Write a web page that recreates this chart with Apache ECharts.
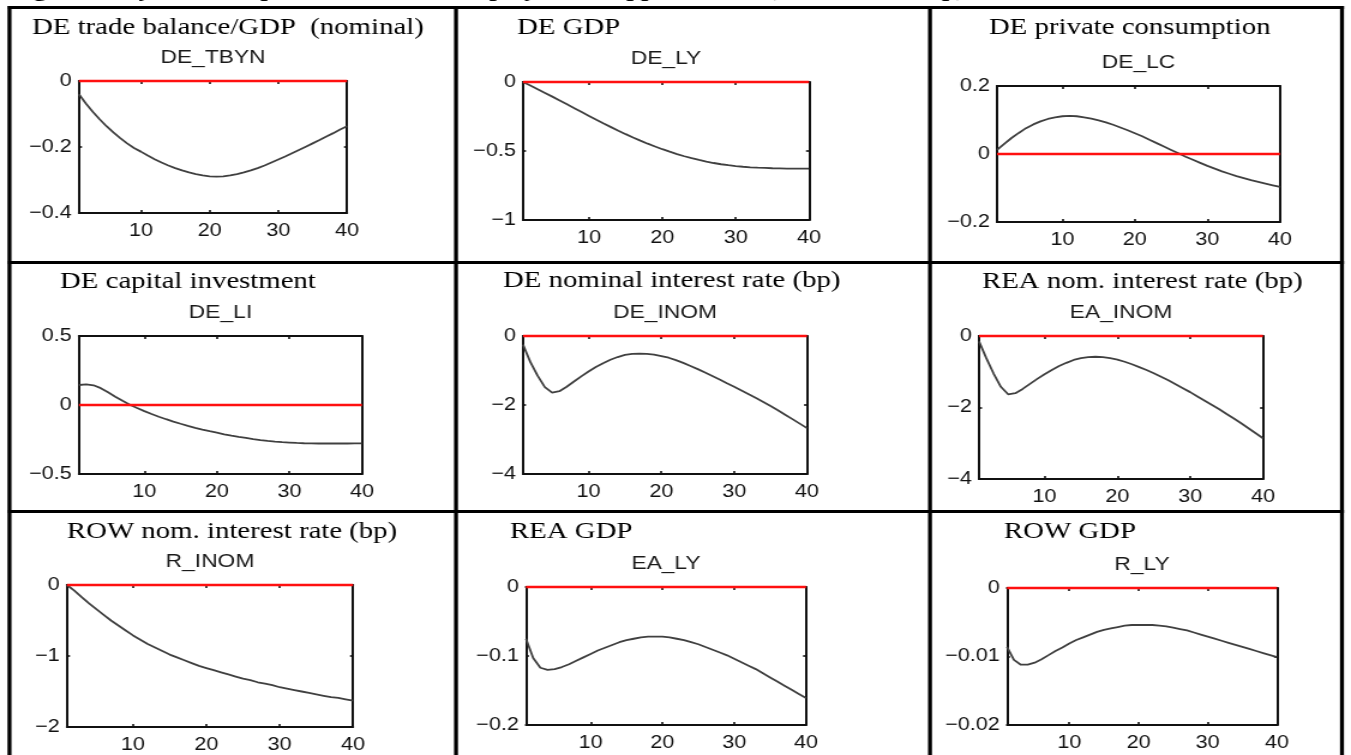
<!DOCTYPE html>
<html>
<head>
<meta charset="utf-8">
<script src="https://cdn.jsdelivr.net/npm/echarts@6/dist/echarts.min.js"></script>
<style>
  html, body { margin: 0; padding: 0; background: #fff; overflow: hidden; }
  #stage { width: 1351px; height: 755px; overflow: hidden; }
  /* the figure is laid out on a narrower canvas and widened, like the stretched page it comes from */
  #chart { width: 1126px; height: 755px; transform: scaleX(1.19982); transform-origin: 0 0; }
</style>
</head>
<body>
<div id="stage"><div id="chart"></div></div>
<script>
// ---- data: quarters after the shock and impulse responses ----
const periods = [1,2,3,4,5,6,7,8,9,10,11,12,13,14,15,16,17,18,19,20,
                 21,22,23,24,25,26,27,28,29,30,31,32,33,34,35,36,37,38,39,40];

const deTbyn = [-0.040,-0.068,-0.093,-0.116,-0.137,-0.156,-0.173,-0.189,-0.203,-0.214,
                -0.226,-0.237,-0.247,-0.256,-0.264,-0.271,-0.277,-0.282,-0.286,-0.289,
                -0.290,-0.289,-0.286,-0.282,-0.277,-0.271,-0.264,-0.256,-0.247,-0.238,
                -0.229,-0.219,-0.209,-0.199,-0.189,-0.179,-0.168,-0.158,-0.147,-0.137];

const deLy = [0.000,-0.025,-0.052,-0.079,-0.106,-0.134,-0.162,-0.190,-0.218,-0.246,
              -0.274,-0.301,-0.327,-0.353,-0.378,-0.402,-0.425,-0.447,-0.467,-0.487,
              -0.505,-0.522,-0.538,-0.552,-0.565,-0.577,-0.587,-0.596,-0.603,-0.609,
              -0.614,-0.618,-0.621,-0.623,-0.625,-0.626,-0.627,-0.627,-0.627,-0.627];

const deLc = [0.012,0.030,0.047,0.062,0.076,0.087,0.096,0.103,0.108,0.111,
              0.112,0.111,0.108,0.104,0.099,0.093,0.086,0.078,0.070,0.061,
              0.052,0.042,0.032,0.022,0.012,0.002,-0.008,-0.017,-0.026,-0.035,
              -0.043,-0.051,-0.058,-0.065,-0.071,-0.077,-0.082,-0.087,-0.092,-0.097];

const deLi = [0.145,0.150,0.143,0.122,0.092,0.060,0.030,0.002,-0.022,-0.044,
              -0.065,-0.085,-0.103,-0.120,-0.136,-0.151,-0.165,-0.178,-0.190,-0.201,
              -0.212,-0.222,-0.231,-0.239,-0.247,-0.254,-0.260,-0.265,-0.269,-0.272,
              -0.275,-0.277,-0.278,-0.279,-0.279,-0.279,-0.279,-0.279,-0.278,-0.278];

const deInom = [-0.25,-0.75,-1.15,-1.48,-1.64,-1.60,-1.47,-1.32,-1.17,-1.03,
                -0.90,-0.79,-0.69,-0.61,-0.55,-0.52,-0.51,-0.52,-0.54,-0.58,
                -0.63,-0.70,-0.78,-0.87,-0.96,-1.06,-1.16,-1.26,-1.37,-1.47,
                -1.58,-1.69,-1.80,-1.91,-2.03,-2.15,-2.28,-2.41,-2.54,-2.67];

const eaInom = [-0.15,-0.62,-1.05,-1.42,-1.63,-1.60,-1.48,-1.34,-1.20,-1.07,
                -0.95,-0.84,-0.75,-0.67,-0.62,-0.59,-0.58,-0.59,-0.62,-0.66,
                -0.72,-0.79,-0.87,-0.95,-1.04,-1.14,-1.24,-1.35,-1.46,-1.57,
                -1.69,-1.81,-1.93,-2.05,-2.18,-2.31,-2.44,-2.58,-2.72,-2.86];

const rInom = [0.00,-0.08,-0.17,-0.26,-0.34,-0.42,-0.50,-0.57,-0.64,-0.71,
               -0.77,-0.83,-0.88,-0.93,-0.98,-1.02,-1.06,-1.10,-1.14,-1.17,
               -1.20,-1.23,-1.26,-1.29,-1.32,-1.34,-1.37,-1.39,-1.41,-1.44,
               -1.46,-1.48,-1.50,-1.52,-1.54,-1.56,-1.58,-1.59,-1.61,-1.63];

const eaLy = [-0.075,-0.103,-0.117,-0.120,-0.119,-0.116,-0.112,-0.107,-0.102,-0.097,
              -0.092,-0.088,-0.084,-0.080,-0.077,-0.075,-0.073,-0.072,-0.072,-0.072,
              -0.073,-0.075,-0.077,-0.080,-0.083,-0.087,-0.091,-0.095,-0.099,-0.104,
              -0.109,-0.114,-0.119,-0.125,-0.131,-0.137,-0.143,-0.149,-0.155,-0.161];

const rLy = [-0.0086,-0.0105,-0.0112,-0.0112,-0.0109,-0.0104,-0.0098,-0.0092,-0.0087,-0.0081,
             -0.0076,-0.0072,-0.0068,-0.0064,-0.0061,-0.0059,-0.0057,-0.0055,-0.0054,-0.0054,
             -0.0054,-0.0054,-0.0055,-0.0056,-0.0058,-0.0060,-0.0062,-0.0065,-0.0068,-0.0071,
             -0.0074,-0.0077,-0.0080,-0.0083,-0.0086,-0.0089,-0.0092,-0.0095,-0.0098,-0.0101];

// ---- labels and tick settings ----
const figureTitle = 'Figure 4: Dynamic responses to the DE employment support shock (deviation, %/bp)';
const panelTitles = ['DE trade balance/GDP  (nominal)', 'DE GDP', 'DE private consumption',
                     'DE capital investment', 'DE nominal interest rate (bp)', 'REA nom. interest rate (bp)',
                     'ROW nom. interest rate (bp)', 'REA GDP', 'ROW GDP'];
const varCodes = ['DE_TBYN', 'DE_LY', 'DE_LC', 'DE_LI', 'DE_INOM', 'EA_INOM', 'R_INOM', 'EA_LY', 'R_LY'];
const seriesList = [deTbyn, deLy, deLc, deLi, deInom, eaInom, rInom, eaLy, rLy];
const yMins = [-0.4, -1, -0.2, -0.5, -4, -4, -2, -0.2, -0.02];
const yMaxs = [0, 0, 0.2, 0.5, 0, 0, 0, 0, 0];
const ySteps = [0.2, 0.5, 0.2, 0.5, 2, 2, 1, 0.1, 0.01];
const xTicks = [10, 20, 30, 40];

// ---- layout (page pixels before the horizontal widening is undone) ----
const PAGE_W = 1351, CANVAS_W = 1126, SX = CANVAS_W / PAGE_W;
const px = v => v * SX;
// plot boxes: [left, right, top, bottom]
const boxes = [
  [79, 347, 81, 213], [523, 809, 82, 220], [997, 1280, 86, 222],
  [79, 362, 336, 474], [523, 807, 336, 474], [979, 1263, 336, 479],
  [67, 353, 585, 727], [526, 806, 587, 725], [1007, 1277, 588, 725]
];
// panel heading: [left, baseline]
const heads = [
  [32, 36], [517, 36], [989, 36],
  [60, 290], [503, 289], [982, 290],
  [67, 540], [510, 540], [1004, 540]
];

const INK = '#111';
const SANS = '"Liberation Sans", Arial, Helvetica, sans-serif';
const SERIF = '"Liberation Serif", "Times New Roman", serif';

function fmtTick(v) {
  const a = parseFloat(Math.abs(v).toFixed(6));
  return (v < -1e-12 ? '\u2212' : '') + String(a);
}

const grid = [], xAxis = [], yAxis = [], series = [], graphic = [];

boxes.forEach((b, i) => {
  grid.push({ left: px(b[0]), top: b[2], width: px(b[1] - b[0]), height: b[3] - b[2],
              containLabel: false, outerBoundsMode: 'none' });

  const line = { show: true, onZero: false, lineStyle: { color: '#111', width: 2 } };
  const tick = { show: true, inside: true, length: 3, customValues: xTicks,
                 lineStyle: { color: '#111', width: 1.6 } };
  xAxis.push({ gridIndex: i, type: 'value', position: 'bottom', min: 1, max: 40,
    axisLine: line, axisTick: tick, splitLine: { show: false },
    axisLabel: { customValues: xTicks, margin: 9, fontFamily: SANS, fontSize: 18, color: INK } });
  xAxis.push({ gridIndex: i, type: 'value', position: 'top', min: 1, max: 40,
    axisLine: line, axisTick: tick, splitLine: { show: false }, axisLabel: { show: false } });

  const ytick = { show: true, inside: true, length: 2.5, lineStyle: { color: '#111', width: 1.6 } };
  yAxis.push({ gridIndex: i, type: 'value', position: 'left', min: yMins[i], max: yMaxs[i], interval: ySteps[i],
    axisLine: line, axisTick: ytick, splitLine: { show: false },
    axisLabel: { margin: 6, fontFamily: SANS, fontSize: 18, color: INK, formatter: fmtTick } });
  yAxis.push({ gridIndex: i, type: 'value', position: 'right', min: yMins[i], max: yMaxs[i], interval: ySteps[i],
    axisLine: line, axisTick: ytick, splitLine: { show: false }, axisLabel: { show: false } });

  series.push({
    type: 'line', xAxisIndex: 2 * i, yAxisIndex: 2 * i, z: 2,
    data: periods.map((p, k) => [p, seriesList[i][k]]),
    showSymbol: false, symbol: 'none', smooth: false,
    lineStyle: { color: '#404040', width: 1.8 },
    markLine: { silent: true, symbol: 'none', animation: false, z: 3,
      label: { show: false }, data: [{ yAxis: 0 }],
      lineStyle: { color: '#ff1010', width: 2.4, type: 'solid' } }
  });

  // panel heading and variable code
  graphic.push({ type: 'text', silent: true,
    style: { text: panelTitles[i], x: px(heads[i][0]), y: heads[i][1] - 20,
             font: '24px ' + SERIF, fill: '#000', verticalAlign: 'top' } });
  graphic.push({ type: 'text', silent: true,
    style: { text: varCodes[i], x: px((b[0] + b[1]) / 2), y: b[2] - 33,
             font: '19px ' + SANS, fill: '#1a1a1a', align: 'center', verticalAlign: 'top' } });
});

// table rules around the panels
const hRules = [7.5, 262.5, 511.5];
const vRules = [9.5, 456, 930, 1342];
hRules.forEach(y => graphic.push({ type: 'line', silent: true,
  shape: { x1: px(8), y1: y, x2: px(1344), y2: y }, style: { stroke: '#000', lineWidth: 3 } }));
vRules.forEach(x => graphic.push({ type: 'line', silent: true,
  shape: { x1: px(x), y1: 6, x2: px(x), y2: 760 }, style: { stroke: '#000', lineWidth: 3.3 } }));

// figure caption running off the top edge
graphic.push({ type: 'text', silent: true,
  style: { text: figureTitle, x: px(10), y: -21, font: 'bold 22px ' + SERIF, fill: '#000', verticalAlign: 'top' } });

const chart = echarts.init(document.getElementById('chart'), null, { renderer: 'canvas' });
chart.setOption({
  animation: false,
  backgroundColor: '#fff',
  grid, xAxis, yAxis, series, graphic
});
</script>
</body>
</html>
